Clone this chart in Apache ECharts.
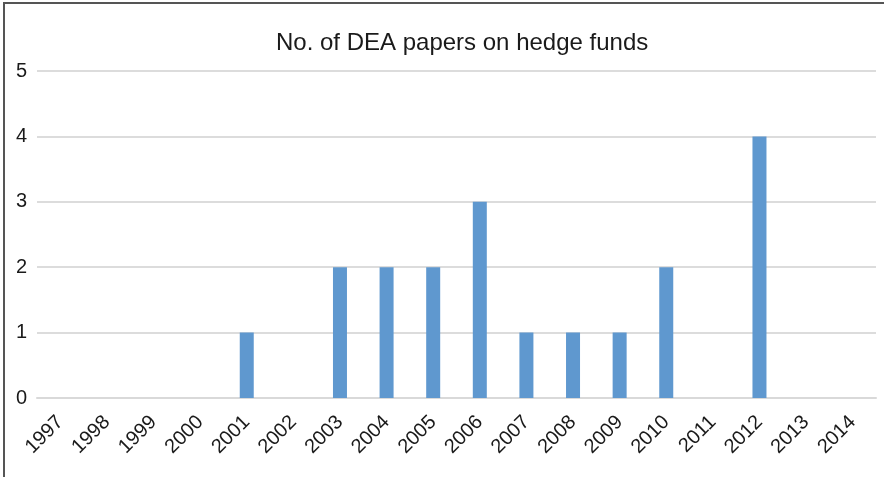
<!DOCTYPE html>
<html>
<head>
<meta charset="utf-8">
<script src="https://cdn.jsdelivr.net/npm/echarts@6/dist/echarts.min.js"></script>
<style>
html,body{margin:0;padding:0;background:#fff;}
#c{width:884px;height:477px;}
</style>
</head>
<body>
<div id="c"></div>
<script>
const categories = ['1997','1998','1999','2000','2001','2002','2003','2004','2005','2006','2007','2008','2009','2010','2011','2012','2013','2014'];
const papers = [0,0,0,0,1,0,2,2,2,3,1,1,1,2,0,4,0,0];
const yTicks = [0,1,2,3,4,5];

const chart = echarts.init(document.getElementById('c'));
chart.setOption({
  animation: false,
  backgroundColor: '#fff',
  title: {
    text: 'No. of DEA papers on hedge funds',
    left: 271,
    top: 26,
    textStyle: {fontFamily: 'Liberation Sans, Arial, sans-serif', fontSize: 24, fontWeight: 'normal', color: '#1a1a1a'}
  },
  grid: {left: 37, right: 8, top: 71, bottom: 79, containLabel: false},
  xAxis: {
    type: 'category',
    data: categories,
    axisLine: {show: true, lineStyle: {color: '#d9d9d9', width: 2}},
    axisTick: {show: false},
    axisLabel: {rotate: 45, margin: 21, fontFamily: 'Liberation Sans, Arial, sans-serif', fontSize: 20, color: '#1a1a1a', interval: 0}
  },
  yAxis: {
    type: 'value',
    min: yTicks[0],
    max: yTicks[yTicks.length-1],
    interval: 1,
    axisLine: {show: false},
    axisTick: {show: false},
    splitLine: {lineStyle: {color: '#dcdcdc', width: 2}},
    axisLabel: {margin: 10, fontFamily: 'Liberation Sans, Arial, sans-serif', fontSize: 20, color: '#1a1a1a'}
  },
  series: [{
    type: 'bar',
    data: papers,
    barWidth: 14,
    itemStyle: {color: '#5f98cf'}
  }],
  graphic: [
    {type: 'line', shape: {x1: 4, y1: 3, x2: 4, y2: 477}, style: {stroke: '#555', lineWidth: 2}},
    {type: 'line', shape: {x1: 3, y1: 3, x2: 884, y2: 3}, style: {stroke: '#555', lineWidth: 2}}
  ]
});
</script>
</body>
</html>
